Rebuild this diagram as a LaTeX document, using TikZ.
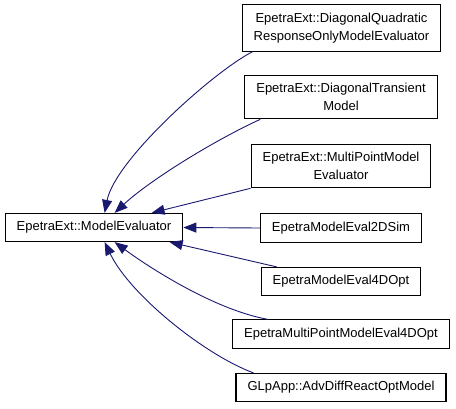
\documentclass[tikz,border=0pt]{standalone}
\usepackage{fontspec}
\setmainfont{Liberation Sans}
\usetikzlibrary{arrows.meta}
\definecolor{midnight}{HTML}{191970}

\begin{document}
\begin{tikzpicture}[x=1pt,y=-1pt,
   box/.style={draw=black,line width=1.1pt,fill=white,align=center,
               inner xsep=11.5pt,inner ysep=8pt,font=\fontsize{13}{18}\selectfont},
   edge/.style={draw=midnight,line width=0.9pt,-{Triangle[length=13pt,width=10pt]}}]
   \path[use as bounding box] (0,0) rectangle (456,408);
   \node[box] (base)  at ( 94.0,227.5) {EpetraExt::ModelEvaluator};
   \node[box] (quad)  at (341.5, 28.0) {EpetraExt::DiagonalQuadratic\\ResponseOnlyModelEvaluator};
   \node[box] (trans) at (341.0, 97.0) {EpetraExt::DiagonalTransient\\Model};
   \node[box] (multi) at (341.0,166.0) {EpetraExt::MultiPointModel\\Evaluator};
   \node[box] (sim)   at (341.0,228.0) {EpetraModelEval2DSim};
   \node[box] (opt)   at (341.0,281.5) {EpetraModelEval4DOpt};
   \node[box] (mpopt) at (341.0,334.0) {EpetraMultiPointModelEval4DOpt};
   \node[box] (glp)   at (341.0,387.5) {GLpApp::AdvDiffReactOptModel};
   \draw[edge] ([xshift=11pt]quad.south west) .. controls (213,72) and (115,160) .. ([xshift=100pt]base.north west);
   \draw[edge] ([xshift=16pt]trans.south west) .. controls (215,140) and (150,180) .. ([xshift=110pt]base.north west);
   \draw[edge] (multi.south west) -- ([xshift=147pt]base.north west);
   \draw[edge] (sim.west) -- (base.east);
   \draw[edge] ([xshift=16pt]opt.north west) -- ([xshift=165pt]base.south west);
   \draw[edge] ([xshift=36pt]mpopt.north west) .. controls (215,310) and (150,268) .. ([xshift=110pt]base.south west);
   \draw[edge] ([xshift=18pt]glp.north west) .. controls (205,355) and (130,295) .. ([xshift=100pt]base.south west);
\end{tikzpicture}
\end{document}
